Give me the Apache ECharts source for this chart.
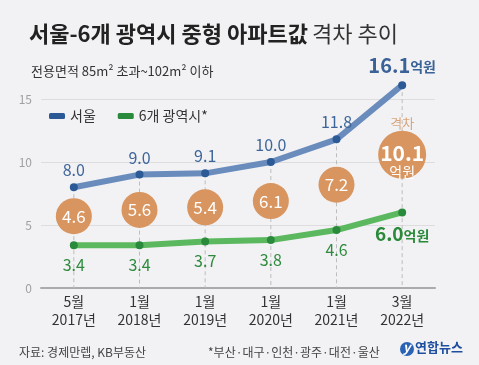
<!DOCTYPE html>
<html><head><meta charset="utf-8">
<script src="https://cdn.jsdelivr.net/npm/echarts@6/dist/echarts.min.js"></script>
<style>html,body{margin:0;padding:0;background:#f2f2f4}#c{width:479px;height:365px}</style>
</head><body><div id="c"></div>
<script>
var months = ['5월','1월','1월','1월','1월','3월'];
var years = ['2017년','2018년','2019년','2020년','2021년','2022년'];
var seoul = [8.0, 9.0, 9.1, 10.0, 11.8, 16.1];
var metro = [3.4, 3.4, 3.7, 3.8, 4.6, 6.0];
var gaps = [4.6, 5.6, 5.4, 6.1, 7.2, 10.1];
var yTicks = [0, 5, 10, 15];

var F = '"Noto Sans CJK KR", "Noto Sans", sans-serif';
var categories = months.map(function(m, i){ return m + '\n' + years[i]; });
var last = seoul.length - 1;

var chart = echarts.init(document.getElementById('c'), null, {renderer:'canvas'});
chart.setOption({
  backgroundColor: '#f2f2f4',
  textStyle: {fontFamily: F},
  animation: false,
  title: [{
    left: 24, top: 18,
    text: '{b|서울-6개 광역시 중형 아파트값} {r|격차 추이}',
    textStyle: {rich: {
      b: {fontFamily: F, fontSize: 22, fontWeight: 'bold', color: '#222'},
      r: {fontFamily: F, fontSize: 22, fontWeight: 'normal', color: '#333'}
    }}
  },{
    left: 26, top: 60,
    text: '전용면적 85m² 초과~102m² 이하',
    textStyle: {fontFamily: F, fontSize: 13, fontWeight: 'normal', color: '#333'}
  },{
    left: 14, top: 341,
    text: '자료: 경제만렙, KB부동산',
    textStyle: {fontFamily: F, fontSize: 12, fontWeight: 'normal', color: '#444'}
  },{
    left: 203, top: 341,
    text: '*부산·대구·인천·광주·대전·울산',
    textStyle: {fontFamily: F, fontSize: 12, fontWeight: 'normal', color: '#444'}
  }],
  graphic: [{
    type: 'circle', shape: {cx: 407, cy: 349, r: 7}, style: {fill: '#2a63b5'}
  },{
    type: 'text', x: 403, y: 341, style: {text: 'y', fill: '#fff', font: 'italic bold 13px ' + F}
  },{
    type: 'text', x: 415, y: 341, style: {text: '연합뉴스', fill: '#1d4f9e', font: 'bold 13px ' + F}
  }],
  legend: {
    left: 44, top: 104,
    itemWidth: 16, itemHeight: 6, itemGap: 22,
    icon: 'roundRect',
    textStyle: {fontFamily: F, fontSize: 14, color: '#333'},
    data: ['서울', '6개 광역시*']
  },
  grid: {left: 41, right: 44, top: 99, bottom: 77, containLabel: false},
  xAxis: {
    type: 'category', data: categories, boundaryGap: true,
    axisLine: {lineStyle: {color: '#aaaaaa', width: 2}},
    axisTick: {show: false},
    axisLabel: {fontFamily: F, fontSize: 14, color: '#333', lineHeight: 18, margin: 5}
  },
  yAxis: {
    type: 'value', min: yTicks[0], max: yTicks[yTicks.length-1], interval: 5,
    axisLine: {show: false}, axisTick: {show: false},
    axisLabel: {fontFamily: F, fontSize: 12, color: '#a0a0a0', margin: 9},
    splitLine: {lineStyle: {color: '#dddddd', width: 1}}
  },
  series: [{
    type: 'custom', z: 1, silent: true,
    data: seoul.map(function(v, i){ return [i, v]; }),
    renderItem: function(params, api){
      var top = api.coord([api.value(0), api.value(1)]);
      var bot = api.coord([api.value(0), 0]);
      return {type: 'line', shape: {x1: top[0], y1: top[1], x2: bot[0], y2: bot[1]},
        style: {stroke: '#bdbdbd', lineWidth: 1, lineDash: [4, 3]}};
    }
  },{
    name: '서울', type: 'line', z: 3, clip: false,
    data: seoul.map(function(v, i){
      var d = {value: v};
      if (i === last) d.label = {formatter: function(p){ return '{b|' + p.value.toFixed(1) + '}{u|억원}'; }, distance: 6};
      return d;
    }),
    color: '#6a8cbd',
    lineStyle: {color: '#6a8cbd', width: 6},
    symbol: 'circle', symbolSize: 8,
    itemStyle: {color: '#2c5a96'},
    label: {show: true, position: 'top', distance: 5, fontFamily: F, fontSize: 16, color: '#3e6599',
      formatter: function(p){ return p.value.toFixed(1); },
      rich: {b: {fontFamily: F, fontSize: 20, fontWeight: 'bold', color: '#3a6198'},
             u: {fontFamily: F, fontSize: 14, fontWeight: 'bold', color: '#3a6198', padding: [4,0,0,0]}}}
  },{
    name: '6개 광역시*', type: 'line', z: 3, clip: false,
    data: metro.map(function(v, i){
      var d = {value: v};
      if (i === last) d.label = {formatter: function(p){ return '{b|' + p.value.toFixed(1) + '}{u|억원}'; }, distance: 8};
      return d;
    }),
    color: '#5cb85f',
    lineStyle: {color: '#5cb85f', width: 6},
    symbol: 'circle', symbolSize: 8,
    itemStyle: {color: '#2a8a3c'},
    label: {show: true, position: 'bottom', distance: 8, fontFamily: F, fontSize: 16, color: '#2e8b3d',
      formatter: function(p){ return p.value.toFixed(1); },
      rich: {b: {fontFamily: F, fontSize: 19, fontWeight: 'bold', color: '#2a8a3a'},
             u: {fontFamily: F, fontSize: 14, fontWeight: 'bold', color: '#2a8a3a', padding: [4,0,0,0]}}}
  },{
    name: 'gap', type: 'scatter', z: 4, clip: false,
    data: gaps.map(function(g, i){
      var d = {value: [i, (seoul[i] + metro[i]) / 2, g]};
      if (i === last) {
        d.symbolSize = 48; d.symbolOffset = [0, 6];
        d.label = {formatter: function(p){ return '{b|' + p.value[2].toFixed(1) + '}\n{u|억원}'; }, offset: [0, 6]};
      }
      return d;
    }),
    symbol: 'circle', symbolSize: 36,
    itemStyle: {color: '#d9955f', opacity: 1},
    emphasis: {disabled: true},
    label: {show: true, position: 'inside', fontFamily: F, fontSize: 17, color: '#fff',
      formatter: function(p){ return p.value[2].toFixed(1); },
      rich: {b: {fontFamily: F, fontSize: 21, fontWeight: 'bold', color: '#fff', lineHeight: 22},
             u: {fontFamily: F, fontSize: 14, color: '#fff', lineHeight: 16}}}
  },{
    name: 'gapTitle', type: 'scatter', z: 4, clip: false, silent: true,
    data: [{value: [last, (seoul[last] + metro[last]) / 2], label: {formatter: '격차'}}],
    symbolSize: 0,
    label: {show: true, position: 'inside', offset: [0, -26], fontFamily: F, fontSize: 13, color: '#d4915a'}
  }]
});
</script></body></html>
